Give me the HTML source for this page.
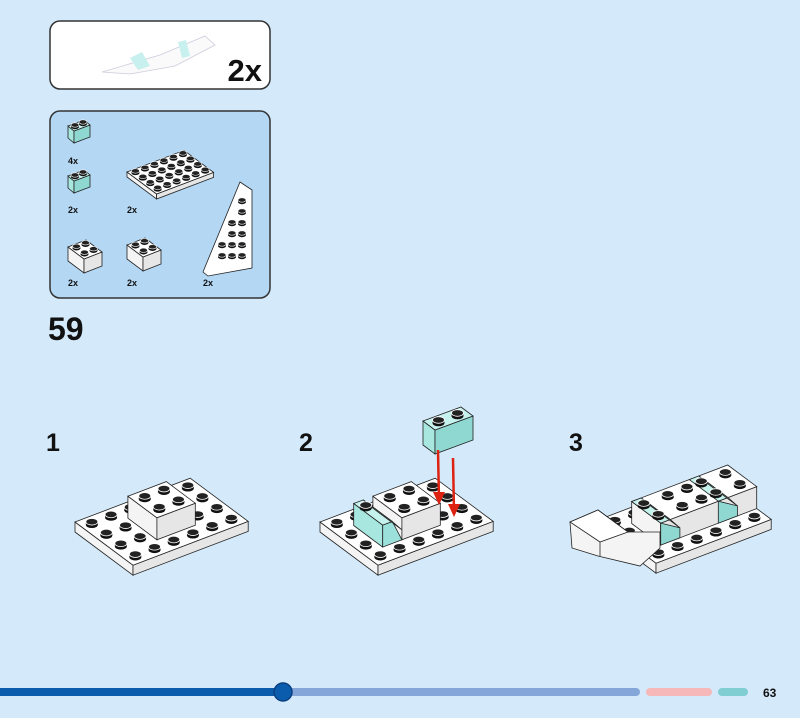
<!DOCTYPE html>
<html><head><meta charset="utf-8"><style>
body{margin:0;width:800px;height:718px;background:#d4eafa;overflow:hidden;font-family:"Liberation Sans",sans-serif}
svg{position:absolute;left:0;top:0}
</style></head><body>
<svg id="s" width="800" height="718" viewBox="0 0 800 718" xmlns="http://www.w3.org/2000/svg">
<defs>
<g id="stud"><path d="M-6,0 v3 a6,3.3 0 0 0 12,0 v-3 z" fill="#111"/><ellipse cx="0" cy="0" rx="6" ry="3.3" fill="#222" stroke="#fff" stroke-width="0.8"/></g>
<g id="st2"><path d="M-4,0 v2 a4,2.2 0 0 0 8,0 v-2 z" fill="#111"/><ellipse cx="0" cy="0" rx="4" ry="2.2" fill="#222" stroke="#fff" stroke-width="0.6"/></g>
</defs>
<rect x="50" y="21" width="220" height="68" rx="10" fill="#fff" stroke="#333" stroke-width="1.5"/>
<polygon points="102,72 160,55 205,36 215,45 175,66 130,74" fill="#fafafa" stroke="#ccd" stroke-width="0.8"/>
<polygon points="130,58 142,52 150,66 138,70" fill="#c8f0ee"/>
<polygon points="178,42 186,40 190,56 182,58" fill="#c8f0ee"/>
<text x="262" y="81" text-anchor="end" font-size="31" font-weight="bold" fill="#111">2x</text>
<rect x="50" y="111" width="220" height="187" rx="10" fill="#b4d7f4" stroke="#333" stroke-width="1.5"/>
<g font-size="9" font-weight="bold" fill="#111">
<text x="68" y="164">4x</text><text x="68" y="213">2x</text><text x="127" y="213">2x</text>
<text x="68" y="286">2x</text><text x="127" y="286">2x</text><text x="203" y="286">2x</text></g>
<g id="mini"></g>
<text x="48" y="340" font-size="32" font-weight="bold" fill="#111">59</text>
<g font-size="25" font-weight="bold" fill="#111"><text x="46" y="451">1</text><text x="299" y="451">2</text><text x="569" y="451">3</text></g>
<g id="steps"></g>
<rect x="0" y="688" width="290" height="8" fill="#0b5cad"/>
<rect x="283" y="688" width="357" height="8" rx="4" fill="#85a6d8"/>
<circle cx="283" cy="692" r="9" fill="#0b5cad" stroke="#0a3f80" stroke-width="1.5"/>
<rect x="646" y="688" width="66" height="8" rx="4" fill="#f6b8b8"/>
<rect x="718" y="688" width="30" height="8" rx="4" fill="#80cdd2"/>
<text x="763" y="697" font-size="12" font-weight="bold" fill="#111">63</text>
</svg>
<script>
const NS="http://www.w3.org/2000/svg";
function el(p,t,a){const e=document.createElementNS(NS,t);for(const k in a)e.setAttribute(k,a[k]);p.appendChild(e);return e;}
function P(a){return a.map(q=>q[0].toFixed(1)+","+q[1].toFixed(1)).join(" ");}
function add(a,b){return[a[0]+b[0],a[1]+b[1]]}
function mul(v,k){return[v[0]*k,v[1]*k]}
function box(g,o,u,v,nu,nv,h,fill,studs,id){
 const A=o,B=add(o,mul(u,nu)),C=add(B,mul(v,nv)),D=add(o,mul(v,nv));
 const dn=[0,h];
 const w=fill=="w";
 el(g,"polygon",{points:P([A,D,add(D,dn),add(A,dn)]),fill:w?"#f4f4f4":"#a8e6e0",stroke:"#222","stroke-width":0.8});
 el(g,"polygon",{points:P([D,C,add(C,dn),add(D,dn)]),fill:w?"#e6e6e6":"#8fd8d2",stroke:"#222","stroke-width":0.8});
 el(g,"polygon",{points:P([A,B,C,D]),fill:w?"#fff":"#c6f2ee",stroke:"#222","stroke-width":0.8});
 if(studs)for(let j=0;j<nv;j++)for(let i=0;i<nu;i++){
  const p=add(add(o,mul(u,i+0.5)),mul(v,j+0.5));
  el(g,"use",{href:"#"+(id||"stud"),x:p[0],y:p[1]-2});
 }
}
const S=document.getElementById("steps"),M=document.getElementById("mini");
const u=[19.2,-7.3],v=[14.5,10.8];
function pt(o,i,j,h){return add(add(o,mul(u,i)),mul(v,j)).map((x,k)=>k?x-(h||0):x);}
function studsOn(g,o,list){list.forEach(([i,j])=>{const p=pt(o,i+0.5,j+0.5);el(g,"use",{href:"#stud",x:p[0],y:p[1]-2});});}
// step 1
let g=el(S,"g",{});let o=[75,522];
box(g,o,u,v,6,4,10,"w",false);
let L=[];for(let j=0;j<4;j++)for(let i=0;i<6;i++){if(!((i==2||i==3)&&(j==1||j==2)))L.push([i,j]);}
studsOn(g,o,L);
box(g,pt(o,2,1,22),u,v,2,2,22,"w",true);
// step 2
g=el(S,"g",{});o=[320,522];
box(g,o,u,v,6,4,10,"w",false);
L=[];for(let j=0;j<4;j++)for(let i=0;i<6;i++){if(!((i>=1&&i<=3)&&(j==1||j==2)))L.push([i,j]);}
studsOn(g,o,L);
box(g,pt(o,2,1,22),u,v,2,2,22,"w",true);
// transparent slope
{const a=pt(o,1,1,22),b=pt(o,1.5,1,22),c=pt(o,1.5,3,22),d=pt(o,1,3,22);
 const B2=pt(o,2,1,0),C2=pt(o,2,3,0),D0=pt(o,1,3,0),A0=pt(o,1,1,0);
 el(g,"polygon",{points:P([a,d,D0,A0]),fill:"#a8e6e0",stroke:"#222","stroke-width":0.8});
 el(g,"polygon",{points:P([d,c,C2,D0]),fill:"#9be0da",stroke:"#222","stroke-width":0.8});
 el(g,"polygon",{points:P([a,b,c,d]),fill:"#c6f2ee",stroke:"#222","stroke-width":0.8});
 el(g,"polygon",{points:P([b,pt(o,2,1,10),pt(o,2,3,10),c]),fill:"#b5ece7",stroke:"#222","stroke-width":0.8});
 const s=pt(o,1.25,1.5,22);el(g,"use",{href:"#stud",x:s[0],y:s[1]-2});}
box(g,[423,421],[19,-7],[12,9],2,1,24,"t",true);
el(g,"line",{x1:438,y1:450,x2:439,y2:500,stroke:"#d21",'stroke-width':2.5});
el(g,"polygon",{points:"433,492 445,492 439,505",fill:"#d21"});
el(g,"line",{x1:453,y1:458,x2:454,y2:512,stroke:"#d21",'stroke-width':2.5});
el(g,"polygon",{points:"448,504 460,504 454,517",fill:"#d21"});
// step 3
g=el(S,"g",{});o=[598,520];
box(g,o,u,v,6,4,10,"w",false);
L=[];for(let j=0;j<4;j++)for(let i=0;i<6;i++){if(!(i>=1&&(j==1||j==2)))L.push([i,j]);}
studsOn(g,o,L);
box(g,pt(o,1,1,22),u,v,5,2,22,"w",false);
studsOn(g,pt(o,0,0,22),[[2,1],[2,2],[3,1],[3,2],[5,1],[5,2]]);
// slopes
[[1,1],[4,1]].forEach(([i,j])=>{
 el(g,"polygon",{points:P([pt(o,i,j,22),pt(o,i+0.5,j,22),pt(o,i+0.5,j+2,22),pt(o,i,j+2,22)]),fill:"#c6f2ee",stroke:"#222","stroke-width":0.8});
 el(g,"polygon",{points:P([pt(o,i+0.5,j,22),pt(o,i+1,j,10),pt(o,i+1,j+2,10),pt(o,i+0.5,j+2,22)]),fill:"#aee9e3",stroke:"#222","stroke-width":0.8});
 el(g,"polygon",{points:P([pt(o,i,j+2,22),pt(o,i+1,j+2,10),pt(o,i+1,j+2,0),pt(o,i,j+2,0)]),fill:"#8fd8d2",stroke:"#222","stroke-width":0.8});
 const s=pt(o,i+0.25,j+0.5,22),s2=pt(o,i+0.25,j+1.5,22);
 el(g,"use",{href:"#stud",x:s[0],y:s[1]-2});el(g,"use",{href:"#stud",x:s2[0],y:s2[1]-2});
});
// left wedge
el(g,"polygon",{points:"570,522 598,510 628,532 660,532 660,548 640,566 598,556 572,548",fill:"#f4f4f4",stroke:"#222","stroke-width":0.8});
el(g,"polygon",{points:"570,522 598,510 628,532 600,542",fill:"#fff",stroke:"#222","stroke-width":0.8});
el(g,"polyline",{points:"600,542 600,556",fill:"none",stroke:"#222","stroke-width":0.8});
// mini parts
box(M,[68,126],[8,-3],[6,5],2,1,12,"t",true,"st2");
box(M,[68,176],[8,-3],[6,5],2,1,12,"t",true,"st2");
box(M,[127,172],[9.5,-3.6],[7.4,5.5],6,4,5,"w",true,"st2");
box(M,[68,247],[9,-3.5],[8,6],2,2,14,"w",true,"st2");
box(M,[127,245],[9,-3.5],[8,6],2,2,14,"w",true,"st2");
el(M,"polygon",{points:"203,272 240,182 252,190 252,268 208,276",fill:"#fff",stroke:"#222","stroke-width":0.8});
for(let r=0;r<6;r++)for(let c=0;c<3;c++){if(r<2&&c<2)continue;if(r<4&&c<1)continue;el(M,"use",{href:"#st2",x:222+c*10,y:200+r*11});}
</script>
</body></html>
